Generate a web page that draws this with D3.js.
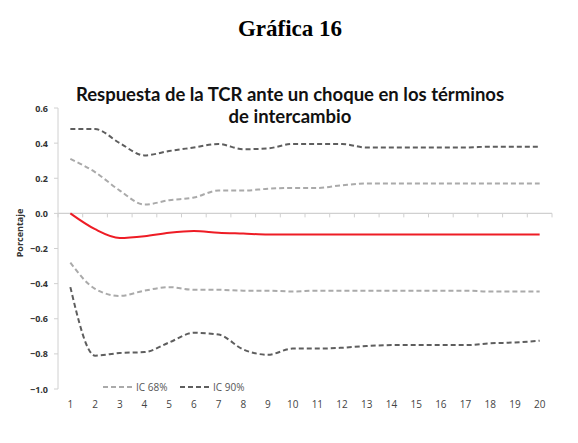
<!DOCTYPE html>
<html><head><meta charset="utf-8">
<script src="https://cdn.jsdelivr.net/npm/d3@7"></script>
<style>body{margin:0;background:#fff}svg{display:block}</style>
</head><body>
<script>
const periods = d3.range(1, 21);
const respuesta = [0.0,-0.09,-0.14,-0.13,-0.11,-0.10,-0.11,-0.115,-0.12,-0.12,-0.12,-0.12,-0.12,-0.12,-0.12,-0.12,-0.12,-0.12,-0.12,-0.12];
const ic68Sup = [0.31,0.235,0.13,0.05,0.075,0.09,0.13,0.13,0.14,0.145,0.145,0.16,0.17,0.17,0.17,0.17,0.17,0.17,0.17,0.17];
const ic68Inf = [-0.28,-0.43,-0.47,-0.44,-0.42,-0.435,-0.435,-0.44,-0.44,-0.445,-0.44,-0.44,-0.44,-0.44,-0.44,-0.44,-0.44,-0.445,-0.445,-0.445];
const ic90Sup = [0.48,0.48,0.40,0.33,0.355,0.375,0.395,0.365,0.37,0.395,0.395,0.395,0.375,0.375,0.375,0.375,0.375,0.38,0.38,0.38];
const ic90Inf = [-0.42,-0.81,-0.795,-0.79,-0.735,-0.68,-0.69,-0.775,-0.805,-0.77,-0.77,-0.765,-0.755,-0.75,-0.75,-0.75,-0.75,-0.74,-0.735,-0.725];
const yTicks = [0.6,0.4,0.2,0.0,-0.2,-0.4,-0.6,-0.8,-1.0];

const W = 578, H = 443;
const svg = d3.select("body").append("svg").attr("width", W).attr("height", H);

svg.append("text").attr("x", 290).attr("y", 36).attr("text-anchor","middle")
  .style("font-family","'Liberation Serif', 'DejaVu Serif', serif").style("font-weight","bold").style("font-size","23px")
  .text("Gráfica 16");

const title = svg.append("text").attr("text-anchor","middle")
  .style("font-family","Lato, 'Open Sans', sans-serif").style("font-weight","bold").style("font-size","18.5px").attr("fill","#111");
title.append("tspan").attr("x", 290).attr("y", 101).text("Respuesta de la TCR ante un choque en los términos");
title.append("tspan").attr("x", 290).attr("y", 123).text("de intercambio");

const x = d3.scaleBand().domain(periods).range([58, 552]);
const y = d3.scaleLinear().domain([-1.0, 0.6]).range([389, 108]);
const cx = d => x(d) + x.bandwidth()/2;

// axes lines
svg.append("line").attr("x1",58).attr("x2",58).attr("y1",y(0.6)).attr("y2",y(-1.0)).attr("stroke","#d0d0d0").attr("stroke-width",1);
svg.append("line").attr("x1",58).attr("x2",552).attr("y1",y(0)).attr("y2",y(0)).attr("stroke","#d0d0d0").attr("stroke-width",1.2);
svg.selectAll(".xt").data(periods.concat([21])).enter().append("line")
  .attr("x1", d => 58 + (d-1)*x.step()).attr("x2", d => 58 + (d-1)*x.step())
  .attr("y1", y(0)).attr("y2", y(0)+4).attr("stroke","#d0d0d0");
svg.selectAll(".yt").data(yTicks).enter().append("line")
  .attr("x1",54).attr("x2",58).attr("y1",d=>y(d)).attr("y2",d=>y(d)).attr("stroke","#d0d0d0");

svg.selectAll(".yl").data(yTicks).enter().append("text")
  .attr("x", 48).attr("y", d => y(d)+3.5).attr("text-anchor","end")
  .style("font-family","'Open Sans', sans-serif").style("font-weight","bold").style("font-size","9px").attr("fill","#333")
  .text(d => d3.format(".1f")(d));

svg.selectAll(".xl").data(periods).enter().append("text")
  .attr("x", d => cx(d)).attr("y", 408).attr("text-anchor","middle")
  .style("font-family","'Open Sans', sans-serif").style("font-size","10px").attr("fill","#444")
  .text(d => d);

svg.append("text").attr("transform","translate(23,233) rotate(-90)").attr("text-anchor","middle")
  .style("font-family","'Open Sans', sans-serif").style("font-weight","bold").style("font-size","9px").attr("fill","#333")
  .text("Porcentaje");

const line = d3.line().x((d,i) => cx(periods[i])).y(d => y(d)).curve(d3.curveMonotoneX);
const light = "#aaaaaa", dark = "#5e5e5e";
[[ic68Sup, light],[ic68Inf, light],[ic90Sup, dark],[ic90Inf, dark]].forEach(([s,c]) => {
  svg.append("path").attr("d", line(s)).attr("fill","none").attr("stroke",c)
    .attr("stroke-width",2).attr("stroke-dasharray","5,3");
});
svg.append("path").attr("d", line(respuesta)).attr("fill","none").attr("stroke","#ee1c25").attr("stroke-width",2);

// legend
const leg = [{label:"IC 68%", c: light, x0: 103}, {label:"IC 90%", c: dark, x0: 180}];
leg.forEach(l => {
  svg.append("line").attr("x1", l.x0).attr("x2", l.x0+32).attr("y1", 387).attr("y2", 387)
    .attr("stroke", l.c).attr("stroke-width", 2).attr("stroke-dasharray","5,3");
  svg.append("text").attr("x", l.x0+33).attr("y", 391)
    .style("font-family","'Open Sans', sans-serif").style("font-size","10px").attr("fill","#555").text(l.label);
});
</script>
</body></html>
